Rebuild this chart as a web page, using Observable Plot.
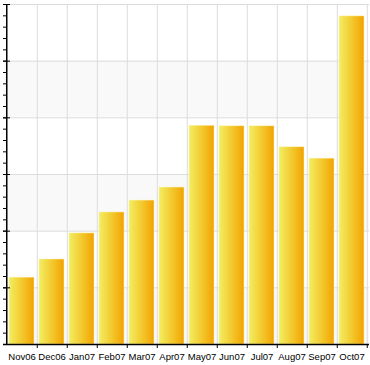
<!DOCTYPE html>
<html><head><meta charset="utf-8">
<script src="https://cdn.jsdelivr.net/npm/d3@7"></script>
<script src="https://cdn.jsdelivr.net/npm/@observablehq/plot@0.6"></script>
<style>body{margin:0;background:#fff}</style>
</head><body><div id="chart"></div>
<script>
const categories = ["Nov06","Dec06","Jan07","Feb07","Mar07","Apr07","May07","Jun07","Jul07","Aug07","Sep07","Oct07"];
const values = [11.8,15.0,19.6,23.3,25.4,27.7,38.6,38.5,38.5,34.8,32.8,57.9];
const majorTicks = [0,10,20,30,40,50,60];
const minorTicks = d3.range(0,61,2);
const bands = [[0,10],[20,30],[40,50]];

const data = categories.map((c,i)=>({c, v: values[i]}));
const W = 370, H = 365, mL = 3, mR = 1;
const step = (W - mL - mR) / categories.length;

const plot = Plot.plot({
  width: W, height: H,
  marginLeft: mL, marginRight: mR, marginTop: 4, marginBottom: 21,
  style: {fontFamily: "Liberation Sans, Arial, sans-serif", fontSize: "9.5px", color: "#000", background: "#fff"},
  x: {type: "band", domain: categories, paddingInner: 0.18, paddingOuter: 0.09},
  y: {domain: [0, 60]},
  marks: [
    Plot.rectY(bands, {x1: () => categories[0], x2: () => categories[categories.length-1], y1: d => d[0], y2: d => d[1], fill: "#f9f9f9", insetLeft: -step*0.09 - 2, insetRight: -step*0.09 - 2}),
    Plot.ruleY(majorTicks, {stroke: "#dcdcdc", strokeWidth: 1}),
    Plot.ruleX(categories, {dx: step/2, stroke: "#dcdcdc", strokeWidth: 1}),
    Plot.barY(data, {x: "c", y: "v", fill: "url(#barGrad)", stroke: "#fbf3b0", strokeWidth: 0.5}),
    Plot.axisX({tickSize: 0, tickPadding: 9, label: null, fontSize: 9.5}),
    Plot.axisX({tickSize: 4, text: null, dx: step/2, label: null}),
    Plot.axisY(minorTicks, {anchor: "left", tickSize: -4, text: null, label: null}),
    Plot.axisY(majorTicks, {anchor: "left", tickSize: -7, text: null, label: null}),
    Plot.ruleY([0], {stroke: "#000", strokeWidth: 1.5}),
    Plot.ruleX([categories[0]], {dx: -step/2, stroke: "#000", strokeWidth: 1.5})
  ]
});
const svg = d3.select(plot);
const defs = svg.insert("defs", ":first-child");
const g = defs.append("linearGradient").attr("id","barGrad").attr("x1","0%").attr("x2","100%").attr("y1","0%").attr("y2","0%");
g.append("stop").attr("offset","0%").attr("stop-color","#f2ee62");
g.append("stop").attr("offset","55%").attr("stop-color","#f3c62a");
g.append("stop").attr("offset","100%").attr("stop-color","#f2a202");
document.getElementById("chart").appendChild(plot);
</script>
</body></html>
